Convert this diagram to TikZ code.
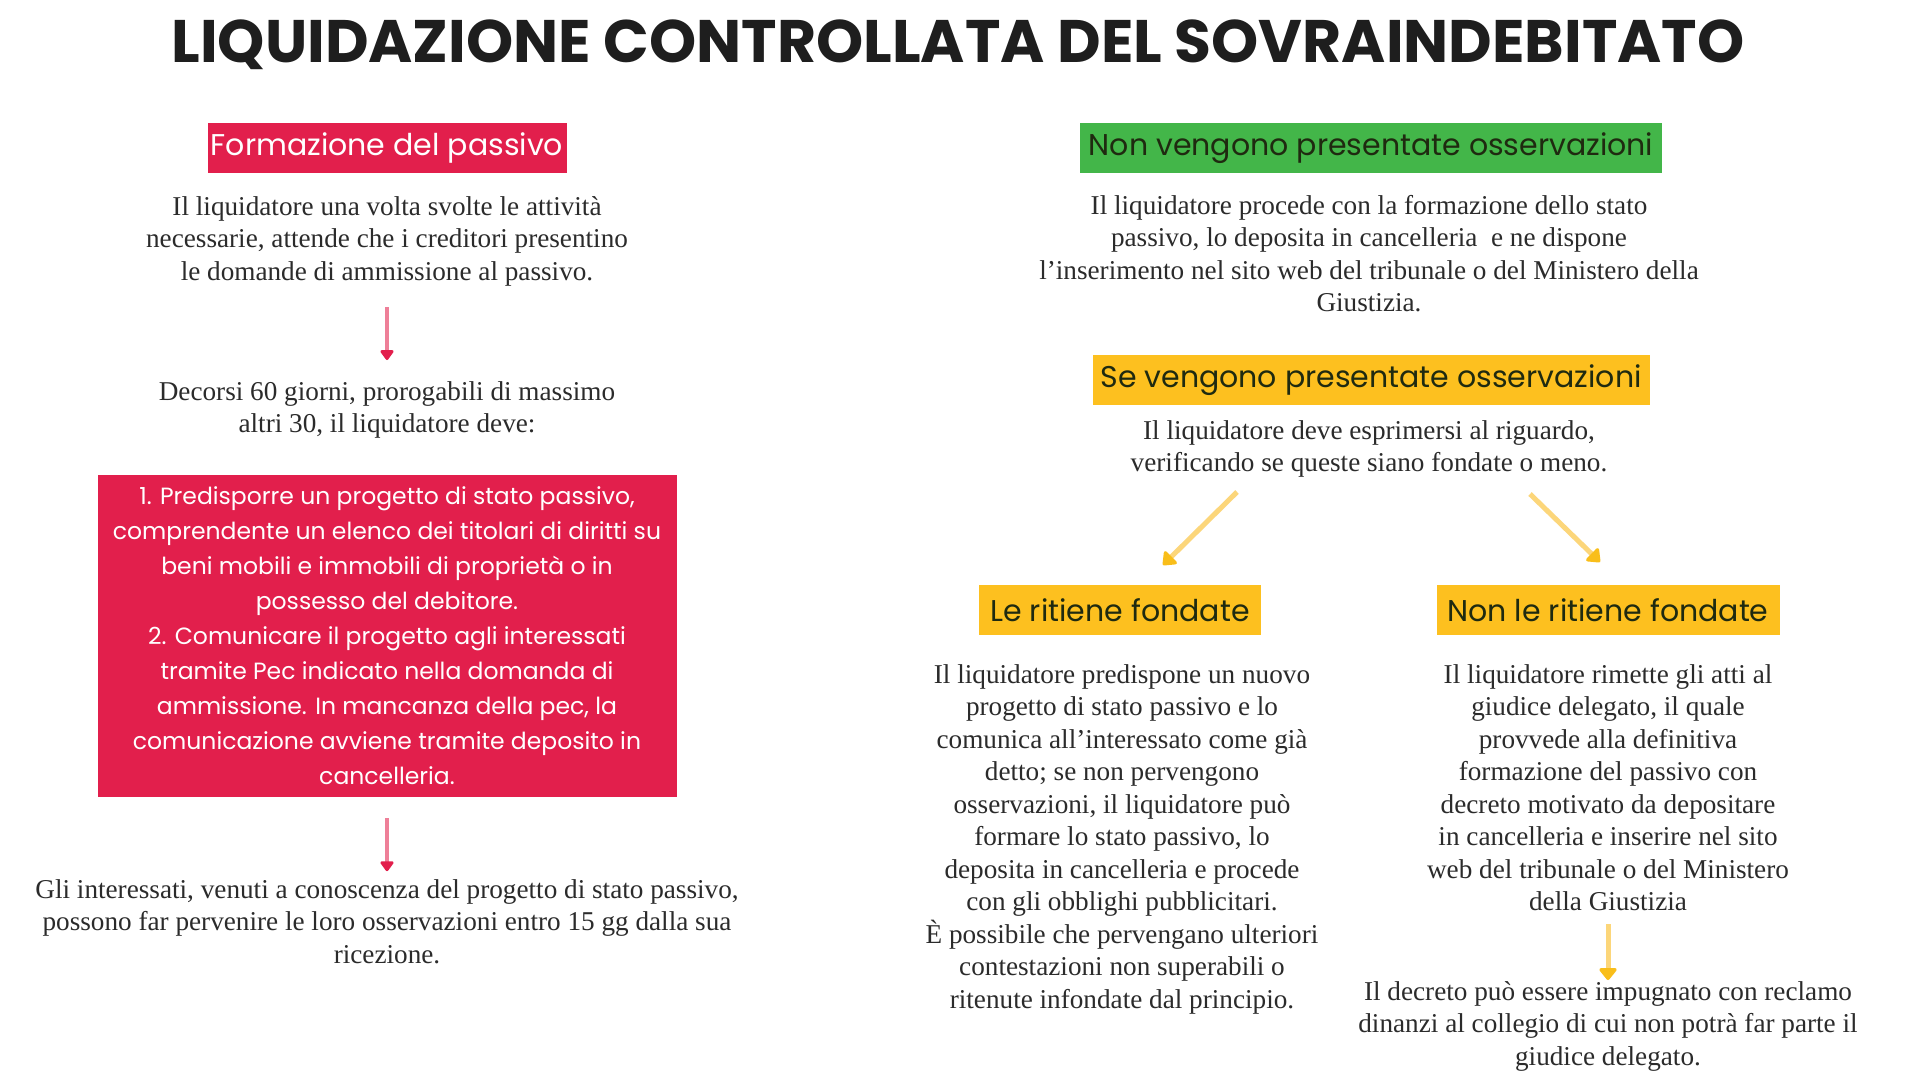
\documentclass[tikz,border=0pt]{standalone}
\usepackage{fontspec}
\setmainfont{Liberation Serif}
\newfontfamily\pop{Poppins}
\usetikzlibrary{arrows.meta}
\definecolor{cred}{HTML}{E21F4C}
\definecolor{credl}{HTML}{EE7F98}
\definecolor{cgreen}{HTML}{43B649}
\definecolor{cyellow}{HTML}{FDC01F}
\definecolor{carrowy}{HTML}{F9BE1A}
\definecolor{carrowyl}{HTML}{FCD67A}
\definecolor{ctitle}{HTML}{1E1E1E}
\definecolor{cbody}{HTML}{2B2B2B}
\definecolor{chdark}{HTML}{1F2A10}
\begin{document}
\begin{tikzpicture}[x=1pt,y=-1pt,
  hdr/.style={inner sep=0pt, minimum height=50pt, font=\pop\fontsize{30}{34}\selectfont, anchor=center},
  body/.style={align=center, text=cbody, font=\fontsize{27.2}{32.5}\selectfont, inner sep=0pt, anchor=north},
  redarrow/.style={draw=credl, line width=3.5pt, -{Triangle[round,length=11pt,width=15pt,color=cred]}},
  yarrow/.style={draw=carrowyl, line width=5pt, -{Triangle[round,length=13pt,width=20pt,color=carrowy]}},
]
\useasboundingbox (0,0) rectangle (1920,1080);
\fill[white] (0,0) rectangle (1920,1080);

\node[text=ctitle, font=\pop\bfseries\fontsize{60}{66}\selectfont, inner sep=0pt] (title) at (958,45) {LIQUIDAZIONE CONTROLLATA DEL SOVRAINDEBITATO};

% ---------- left column
\node[hdr, fill=cred, text=white, minimum width=359pt] (h1) at (387,148) {Formazione del passivo};
\node[body] (t1) at (387,196) {Il liquidatore una volta svolte le attività\\necessarie, attende che i creditori presentino\\le domande di ammissione al passivo.};
\coordinate (a1s) at (387,307);
\coordinate (a1e) at (387,360);
\draw[redarrow] (a1s) -- (a1e);
\node[body] (t2) at (387,381) {Decorsi 60 giorni, prorogabili di massimo\\altri 30, il liquidatore deve:};
\node[fill=cred, text=white, minimum width=579pt, minimum height=322pt, inner sep=0pt, align=center,
      font=\pop\fontsize{23.5}{35}\selectfont] (box) at (387,636)
  {1. Predisporre un progetto di stato passivo,\\comprendente un elenco dei titolari di diritti su\\beni mobili e immobili di proprietà o in\\possesso del debitore.\\2. Comunicare il progetto agli interessati\\tramite Pec indicato nella domanda di\\ammissione. In mancanza della pec, la\\comunicazione avviene tramite deposito in\\cancelleria.};
\draw[redarrow] (box.south) ++(0,21) coordinate (a2s) -- ++(0,53) coordinate (a2e);
\node[body] (t3) at (387,879) {Gli interessati, venuti a conoscenza del progetto di stato passivo,\\possono far pervenire le loro osservazioni entro 15 gg dalla sua\\ricezione.};

% ---------- right column
\node[hdr, fill=cgreen, text=chdark, minimum width=582pt] (h2) at (1371,148) {Non vengono presentate osservazioni};
\node[body] (t4) at (1369,195) {Il liquidatore procede con la formazione dello stato\\passivo, lo deposita in cancelleria\ \ e ne dispone\\l'inserimento nel sito web del tribunale o del Ministero della\\Giustizia.};
\node[hdr, fill=cyellow, text=chdark, minimum width=557pt] (h3) at (1371,380) {Se vengono presentate osservazioni};
\node[body] (t5) at (1369,420) {Il liquidatore deve esprimersi al riguardo,\\verificando se queste siano fondate o meno.};

\node[hdr, fill=cyellow, text=chdark, minimum width=282pt] (h4) at (1120,610) {Le ritiene fondate};
\node[hdr, fill=cyellow, text=chdark, minimum width=343pt] (h5) at (1608,610) {Non le ritiene fondate};

\coordinate (y1s) at (1237,492);
\coordinate (y1e) at (1163,565);
\coordinate (y2s) at (1530,494);
\coordinate (y2e) at (1600,562);
\draw[yarrow] (y1s) -- (y1e);
\draw[yarrow] (y2s) -- (y2e);

\node[body] (t6) at (1122,664) {Il liquidatore predispone un nuovo\\progetto di stato passivo e lo\\comunica all'interessato come già\\detto; se non pervengono\\osservazioni, il liquidatore può\\formare lo stato passivo, lo\\deposita in cancelleria e procede\\con gli obblighi pubblicitari.\\È possibile che pervengano ulteriori\\contestazioni non superabili o\\ritenute infondate dal principio.};
\node[body] (t7) at (1608,664) {Il liquidatore rimette gli atti al\\giudice delegato, il quale\\provvede alla definitiva\\formazione del passivo con\\decreto motivato da depositare\\in cancelleria e inserire nel sito\\web del tribunale o del Ministero\\della Giustizia};
\coordinate (y3s) at (1608,924);
\coordinate (y3e) at (1608,980);
\draw[yarrow] (y3s) -- (y3e);
\node[body] (t8) at (1608,981) {Il decreto può essere impugnato con reclamo\\dinanzi al collegio di cui non potrà far parte il\\giudice delegato.};
\end{tikzpicture}
\end{document}
